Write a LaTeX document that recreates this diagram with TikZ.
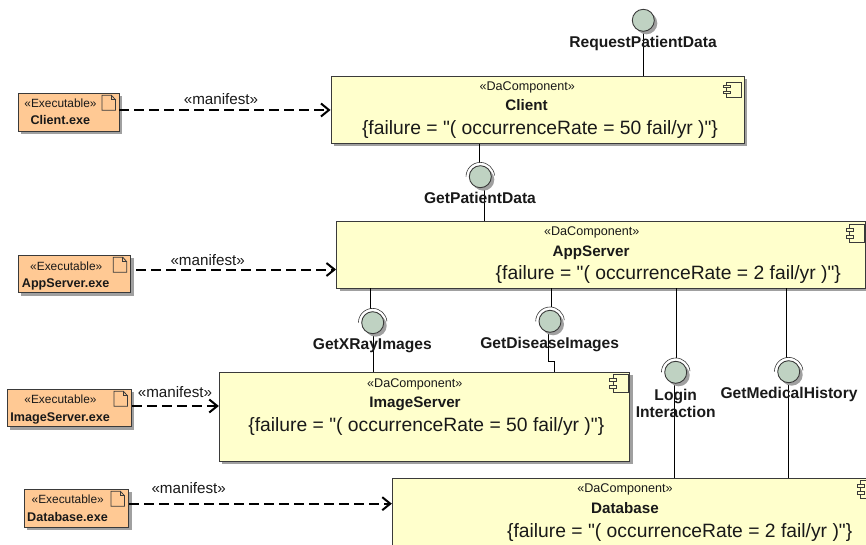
\documentclass[tikz,border=0pt]{standalone}
\usepackage{fontspec}
\setmainfont{Liberation Sans}[Ligatures=TeXOff]
\usetikzlibrary{fit,shadows,arrows.meta}
\definecolor{compfill}{HTML}{FFFFCC}
\definecolor{exefill}{HTML}{FFC994}
\definecolor{ifacefill}{HTML}{BFD2C2}
\definecolor{shadowgray}{HTML}{A0A0A0}
\definecolor{edgegray}{HTML}{3A3A3A}
\tikzset{
  flatshadow/.style={drop shadow={shadow xshift=3pt,shadow yshift=-3pt,fill=shadowgray,opacity=1}},
  compbox/.style={rectangle,draw=edgegray,line width=.9pt,fill=compfill,inner sep=0pt,flatshadow},
  exebox/.style={rectangle,draw=edgegray,line width=.9pt,fill=exefill,inner sep=0pt,flatshadow},
  ifacecircle/.style={circle,draw=edgegray,line width=.9pt,fill=ifacefill,minimum size=22pt,inner sep=0pt,flatshadow},
  sockarc/.style={draw=edgegray,line width=.6pt},
  wire/.style={draw=black,line width=1pt},
  manifestarrow/.style={draw=black,line width=2pt,dash pattern=on 10pt off 5pt,-{Straight Barb[length=8pt,width=13pt,line width=2pt]}},
  stereo/.style={font=\fontsize{12.6}{12}\selectfont,anchor=base,inner sep=0pt,text=black!90},
  exestereo/.style={font=\fontsize{11.9}{12}\selectfont,anchor=base,inner sep=0pt,text=black!90},
  exename/.style={font=\fontsize{12.6}{12}\selectfont\bfseries,anchor=base,inner sep=0pt,text=black!90},
  compname/.style={font=\fontsize{15.2}{15}\selectfont\bfseries,anchor=base,inner sep=0pt,text=black!90},
  failtext/.style={font=\fontsize{19.3}{19}\selectfont,anchor=base,inner sep=0pt,text=black!90},
  manitext/.style={font=\fontsize{15.2}{15}\selectfont,anchor=base,inner sep=0pt,text=black!90},
  ifacetext/.style={font=\fontsize{15.6}{15}\selectfont\bfseries,anchor=base,inner sep=0pt,text=black!90},
  iconline/.style={draw=edgegray,line width=.8pt},
}
\newcommand{\compicon}[3]{% body left, top, height
  \draw[iconline] (#1,#2) rectangle ++(15,#3);
  \path[iconline,fill=compfill] (#1-3.5,#2+#3*0.22) rectangle ++(7,#3*0.17);
  \path[iconline,fill=compfill] (#1-3.5,#2+#3*0.61) rectangle ++(7,#3*0.17);
}
\newcommand{\docicon}[2]{% left, top
  \draw[iconline] (#1,#2) -- ++(9.5,0) -- ++(4,4.5) -- ++(0,10.5) -- ++(-13.5,0) -- cycle;
  \draw[iconline] (#1+9.5,#2) -- ++(0,4.5) -- ++(4,0);
}
\newcommand{\sockarc}[1]{%
  \draw[sockarc] (#1.center) ++(180:14.3pt) arc[start angle=180,end angle=5,radius=14.3pt];
}
\begin{document}
\begin{tikzpicture}[x=1pt,y=-1pt]
\useasboundingbox (0,0) rectangle (866,545);
\clip (0,0) rectangle (866,545);

% components
\node[compbox,fit={(331,76.5)(744,143.5)}] (client) {};
\node[compbox,fit={(336.5,221.3)(865,288)}] (app) {};
\node[compbox,fit={(219.3,372)(629.7,461.3)}] (image) {};
\node[compbox,fit={(392.3,478.3)(900,580)}] (db) {};

% executables
\node[exebox,fit={(18.3,93.3)(119,131)}] (cexe) {};
\node[exebox,fit={(18.3,255.3)(130.5,292.7)}] (aexe) {};
\node[exebox,fit={(7.3,389)(131.3,426.7)}] (iexe) {};
\node[exebox,fit={(24,489.3)(128.7,527.3)}] (dexe) {};

% icons
\compicon{726.5}{82}{15}
\compicon{849.5}{224}{18}
\compicon{613}{374.7}{18}
\compicon{860.7}{480.3}{18}
\docicon{102}{95.3}
\docicon{113.3}{257.3}
\docicon{114}{391.3}
\docicon{111}{491.3}

% manifest levels
\coordinate (m1) at (0,110);
\coordinate (m2) at (136,269.5);
\coordinate (m3) at (0,406);
\coordinate (m4) at (0,503.7);
\draw[manifestarrow] (cexe.east |- m1) -- (client.west |- m1);
\draw[manifestarrow] (m2) -- (app.west |- m2);
\draw[manifestarrow] (iexe.east |- m3) -- (image.west |- m3);
\draw[manifestarrow] (dexe.east |- m4) -- (db.west |- m4);

% interface positions
\coordinate (pReq) at (643.3,20.3);
\coordinate (pPat) at (480.3,176.7);
\coordinate (pXr)  at (372.7,322.7);
\coordinate (pDis) at (550,321.3);
\coordinate (pLog) at (675.7,372.3);
\coordinate (pMed) at (788.7,371.7);

% wires
\draw[wire] (pReq) -- (pReq |- client.north);
\coordinate (u2) at (479.3,163); \draw[wire] (client.south -| u2) -- (u2);
\coordinate (d2) at (484.3,185); \draw[wire] (d2) -- (d2 |- app.north);
\coordinate (u3) at (370.3,308.5); \draw[wire] (app.south -| u3) -- (u3);
\coordinate (d3) at (373.3,331); \draw[wire] (d3) -- (d3 |- image.north);
\coordinate (u4) at (551.3,307); \draw[wire] (app.south -| u4) -- (u4);
\coordinate (d4) at (548.7,330); \coordinate (k4) at (554,361);
\draw[wire] (d4) |- (k4) -- (k4 |- image.north);
\coordinate (u5) at (676.3,358); \draw[wire] (app.south -| u5) -- (u5);
\coordinate (d5) at (674.3,381); \draw[wire] (d5) -- (d5 |- db.north);
\coordinate (u6) at (786.3,358); \draw[wire] (app.south -| u6) -- (u6);
\coordinate (d6) at (788.3,381); \draw[wire] (d6) -- (d6 |- db.north);

% interfaces
\node[ifacecircle] (iReq) at (pReq) {};
\node[ifacecircle] (iPat) at (pPat) {};
\node[ifacecircle] (iXr) at (pXr) {};
\node[ifacecircle] (iDis) at (pDis) {};
\node[ifacecircle] (iLog) at (pLog) {};
\node[ifacecircle] (iMed) at (pMed) {};
\sockarc{iPat}\sockarc{iXr}\sockarc{iDis}\sockarc{iLog}\sockarc{iMed}

% texts
\node[exestereo] (t1) at (60.5,108) {«Executable»};
\node[exename] (t2) at (60.3,125) {Client.exe};
\node[exestereo] (t3) at (66.3,270) {«Executable»};
\node[exename] (t4) at (65.7,287) {AppServer.exe};
\node[exestereo] (t5) at (60.5,403.7) {«Executable»};
\node[exename] (t6) at (60.2,421) {ImageServer.exe};
\node[exestereo] (t7) at (67.7,503.7) {«Executable»};
\node[exename] (t8) at (67.5,521) {Database.exe};

\node[stereo] (c1) at (527.2,90.7) {«DaComponent»};
\node[compname] (c2) at (526.5,111) {Client};
\node[failtext] (c3) at (540,135) {\{failure = "( occurrenceRate = 50 fail/yr )"\}};
\node[stereo] (c4) at (591.7,235.7) {«DaComponent»};
\node[compname] (c5) at (591,256) {AppServer};
\node[failtext] (c6) at (668.3,279.5) {\{failure = "( occurrenceRate = 2 fail/yr )"\}};
\node[stereo] (c7) at (414.8,387) {«DaComponent»};
\node[compname] (c8) at (415,407) {ImageServer};
\node[failtext] (c9) at (426.3,431) {\{failure = "( occurrenceRate = 50 fail/yr )"\}};
\node[stereo] (c10) at (625,492.7) {«DaComponent»};
\node[compname] (c11) at (625,513) {Database};
\node[failtext] (c12) at (679.7,537) {\{failure = "( occurrenceRate = 2 fail/yr )"\}};

\node[manitext] (m1t) at (221,105) {«manifest»};
\node[manitext] (m2t) at (207.7,265.7) {«manifest»};
\node[manitext] (m3t) at (175,397.7) {«manifest»};
\node[manitext] (m4t) at (188.7,493.7) {«manifest»};

\node[ifacetext] (l1) at (643,47.7) {RequestPatientData};
\node[ifacetext] (l2) at (480,203.3) {GetPatientData};
\node[ifacetext] (l3) at (372.3,349.3) {GetXRayImages};
\node[ifacetext] (l4) at (549.7,348) {GetDiseaseImages};
\node[ifacetext] (l5) at (675.7,400.3) {Login};
\node[ifacetext] (l6) at (675.7,417) {Interaction};
\node[ifacetext] (l7) at (789,398) {GetMedicalHistory};
\end{tikzpicture}
\end{document}
